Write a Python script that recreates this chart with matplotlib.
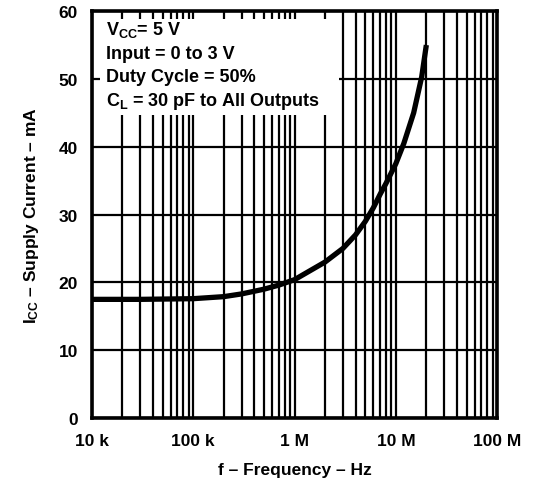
import numpy as np
import matplotlib
matplotlib.use("Agg")
import matplotlib.pyplot as plt
from matplotlib.patches import Rectangle

plt.rcParams["font.family"] = ["Liberation Sans", "DejaVu Sans"]
plt.rcParams["font.weight"] = "bold"
plt.rcParams["mathtext.fontset"] = "custom"
plt.rcParams["mathtext.rm"] = "Liberation Sans:bold"
plt.rcParams["mathtext.bf"] = "Liberation Sans:bold"
plt.rcParams["mathtext.it"] = "Liberation Sans:bold"

# supply current vs frequency
freq_hz = [1e4, 3e4, 1e5, 2e5, 3e5, 5e5, 7e5, 1e6, 2e6, 3e6, 4e6, 5e6,
           6e6, 7e6, 8e6, 1e7, 1.2e7, 1.5e7, 1.8e7, 2e7]
icc_ma = [17.5, 17.5, 17.6, 17.9, 18.3, 19.0, 19.6, 20.4, 23.0, 25.0, 27.0, 29.0,
          31.0, 33.0, 34.6, 37.5, 40.5, 45.0, 50.3, 55.0]

xticks = [1e4, 1e5, 1e6, 1e7, 1e8]
xtick_labels = ["10 k", "100 k", "1 M", "10 M", "100 M"]
yticks = [0, 10, 20, 30, 40, 50, 60]

notes = [r"$\mathbf{V_{CC}}$= 5 V",
         "Input = 0 to 3 V",
         "Duty Cycle = 50%",
         r"$\mathbf{C_L}$ = 30 pF to All Outputs"]

fig = plt.figure(figsize=(5.34, 4.85), dpi=100)
ax = fig.add_axes([0.172, 0.136, 0.759, 0.839])

ax.set_xscale("log")
ax.set_xlim(1e4, 1e8)
ax.set_ylim(0, 60)

# log grid: every decade step 1..9
ax.grid(True, which="both", axis="x", color="black", linewidth=1.6)
ax.grid(True, which="major", axis="y", color="black", linewidth=1.6)
ax.set_axisbelow(True)

ax.plot(freq_hz, icc_ma, color="black", linewidth=3.8, solid_capstyle="butt", zorder=5)

# white patch behind the condition notes (grid is broken there)
ax.add_patch(Rectangle((0.02, 0.745), 0.59, 0.235, transform=ax.transAxes,
                       facecolor="white", edgecolor="none", zorder=3))
for i, s in enumerate(notes):
    ax.text(0.035, 0.955 - i * 0.058, s, transform=ax.transAxes, fontsize=13,
            fontweight="bold", va="center", ha="left", zorder=4)

ax.set_xticks(xticks)
ax.set_xticklabels(xtick_labels)
ax.set_yticks(yticks)
ax.tick_params(axis="both", which="both", length=0, labelsize=12.5)
ax.tick_params(axis="x", pad=11)
ax.tick_params(axis="y", pad=10)
for s in ax.spines.values():
    s.set_linewidth(2.6)

ax.set_xlabel("f \u2013 Frequency \u2013 Hz", fontsize=12.5, fontweight="bold", labelpad=10)
ax.set_ylabel(r"$\mathbf{I_{CC}}$" + " \u2013 Supply Current \u2013 mA",
              fontsize=12.5, fontweight="bold", labelpad=13)

fig.savefig("out.png", dpi=100)
